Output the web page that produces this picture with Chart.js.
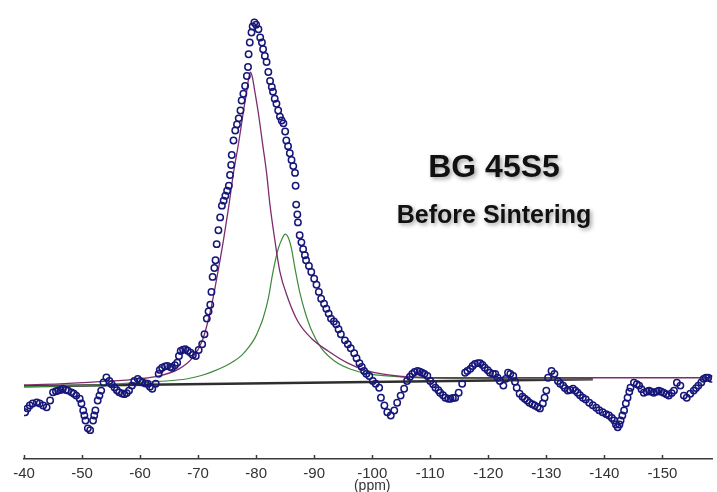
<!DOCTYPE html>
<html>
<head>
<meta charset="utf-8">
<title>BG 45S5 - Before Sintering</title>
<script src="https://cdn.jsdelivr.net/npm/chart.js@4.4.1/dist/chart.umd.min.js"></script>
<style>
  html, body { margin: 0; padding: 0; background: #fff; }
  #wrap { width: 717px; height: 492px; }
</style>
</head>
<body>
<div id="wrap"><canvas id="nmr" width="717" height="492"></canvas></div>
<script>
/* =================================================================
   29Si MAS-NMR spectrum, BG 45S5 before sintering
   Experimental points + two fitted components + baseline
   ================================================================= */

// Chemical shift (ppm) of the measured points
const shiftPpm = [
  -40.2, -40.6, -41.0, -41.5, -42.2, -42.7, -43.3, -43.9, -44.5, -45.0,
  -45.5, -45.9, -46.3, -46.7, -47.2, -47.6, -48.2, -48.6, -49.0, -49.6,
  -49.9, -50.2, -50.4, -50.6, -51.0, -51.4, -51.9, -52.1, -52.3, -52.7,
  -53.0, -53.3, -53.7, -54.2, -54.7, -55.1, -55.6, -56.0, -56.4, -56.9,
  -57.3, -57.7, -58.1, -58.6, -59.0, -59.6, -60.0, -60.4, -60.9, -61.3,
  -61.7, -62.1, -62.7, -63.2, -63.4, -63.8, -64.3, -64.7, -65.2, -65.5,
  -66.0, -66.4, -66.7, -67.0, -67.4, -67.8, -68.2, -68.7, -69.1, -69.6,
  -70.1, -70.7, -71.1, -71.5, -71.8, -72.1, -72.3, -72.5, -72.8, -73.0,
  -73.2, -73.5, -73.8, -74.1, -74.4, -74.7, -75.0, -75.3, -75.5, -75.7,
  -75.8, -76.1, -76.4, -76.7, -77.0, -77.3, -77.5, -77.8, -78.1, -78.4,
  -78.6, -78.7, -78.9, -79.2, -79.4, -79.7, -80.0, -80.4, -80.7, -81.0,
  -81.2, -81.5, -81.8, -82.1, -82.4, -82.7, -82.9, -83.2, -83.5, -83.8,
  -84.1, -84.4, -84.7, -85.0, -85.2, -85.5, -85.8, -86.1, -86.4, -86.7,
  -86.8, -86.9, -87.1, -87.2, -87.5, -87.8, -88.1, -88.4, -88.6, -89.1,
  -89.5, -90.0, -90.4, -90.8, -91.2, -91.7, -92.1, -92.5, -92.9, -93.4,
  -93.8, -94.2, -94.6, -95.3, -95.8, -96.3, -96.9, -97.3, -97.8, -98.2,
  -98.6, -99.0, -99.5, -100.1, -100.6, -101.2, -101.5, -102.1, -102.6, -103.2,
  -103.8, -104.3, -104.9, -105.5, -106.0, -106.5, -106.9, -107.3, -107.8, -108.2,
  -108.6, -109.0, -109.5, -110.0, -110.5, -110.9, -111.4, -111.7, -112.2, -112.6,
  -113.1, -113.5, -113.9, -114.3, -114.9, -115.5, -116.0, -116.4, -116.9, -117.3,
  -117.7, -118.2, -118.6, -119.0, -119.4, -119.9, -120.3, -120.8, -121.2, -121.6,
  -122.0, -122.6, -123.0, -123.4, -123.8, -124.3, -124.6, -124.9, -125.4, -125.9,
  -126.3, -126.7, -127.1, -127.6, -128.0, -128.5, -128.9, -129.4, -129.7, -130.0,
  -130.3, -130.9, -131.4, -132.0, -132.4, -132.9, -133.2, -133.7, -134.1, -134.6,
  -135.0, -135.4, -135.8, -136.3, -136.8, -137.4, -138.0, -138.6, -139.1, -139.7,
  -140.3, -140.8, -141.3, -141.7, -142.0, -142.3, -142.6, -142.8, -143.1, -143.4,
  -143.7, -144.0, -144.3, -144.5, -145.1, -145.6, -146.0, -146.4, -146.8, -147.3,
  -147.7, -148.1, -148.5, -149.0, -149.4, -149.8, -150.2, -150.7, -151.1, -151.6,
  -152.0, -152.5, -153.1, -153.7, -154.2, -154.8, -155.4, -155.8, -156.2, -156.7,
  -157.1, -157.5, -157.9, -158.4
];

// Measured intensity (a.u., baseline ~ 0, max ~ 100)
const intensity = [
  -9.4, -8.3, -7.5, -6.9, -6.6, -6.9, -7.5, -8.0, -6.1, -3.8,
  -3.5, -3.3, -3.1, -2.8, -3.1, -3.3, -3.8, -4.2, -4.7, -5.6,
  -6.9, -8.9, -10.3, -11.7, -13.9, -14.4, -11.7, -10.3, -8.9, -6.1,
  -4.7, -3.3, -1.0, 0.4, -0.6, -1.5, -2.4, -3.2, -3.8, -4.1,
  -4.3, -4.0, -3.3, -1.9, -0.6, 0.0, -0.6, -1.0, -1.3, -1.4,
  -2.2, -2.8, -1.4, 1.4, 2.5, 3.1, 3.5, 3.6, 3.3, 3.1,
  3.8, 4.5, 6.4, 7.8, 8.2, 8.3, 7.9, 7.3, 6.7, 6.4,
  8.1, 9.7, 12.5, 16.9, 18.9, 20.8, 24.4, 28.6, 31.1, 33.3,
  37.8, 41.7, 45.3, 48.6, 50.0, 51.4, 52.8, 54.2, 57.2, 60.0,
  62.8, 66.9, 69.7, 71.4, 73.1, 75.3, 78.1, 80.0, 82.2, 85.0,
  87.5, 91.1, 94.4, 97.2, 98.9, 100.0, 99.4, 98.1, 95.8, 94.4,
  92.5, 90.6, 88.9, 86.1, 83.6, 81.9, 80.6, 78.6, 77.2, 75.3,
  73.6, 72.5, 71.7, 69.4, 66.9, 65.3, 63.3, 61.4, 59.7, 57.8,
  54.2, 48.9, 46.1, 43.9, 40.3, 38.3, 36.4, 34.7, 33.3, 31.7,
  30.0, 28.1, 26.4, 24.4, 22.5, 21.1, 19.7, 18.3, 16.9, 16.1,
  15.3, 13.9, 12.5, 10.8, 9.7, 8.6, 7.2, 5.8, 4.4, 3.3,
  2.2, 1.4, 0.8, -0.6, -1.4, -2.5, -5.3, -7.5, -9.4, -10.3,
  -8.9, -6.7, -4.7, -2.8, -0.6, 0.6, 1.4, 1.9, 2.2, 2.0,
  1.7, 1.4, 0.8, -0.6, -1.5, -2.5, -3.2, -3.9, -4.6, -5.3,
  -5.6, -5.6, -5.4, -5.3, -3.9, -1.4, 1.7, 2.2, 2.8, 3.6,
  4.2, 4.4, 4.4, 3.9, 3.1, 2.4, 1.7, 1.4, 1.4, 0.3,
  -0.6, -1.9, 0.0, 1.7, 1.4, 0.8, -0.8, -2.5, -4.2, -5.0,
  -5.6, -6.1, -6.7, -7.1, -7.5, -7.9, -8.3, -6.9, -5.3, -3.3,
  0.3, 2.2, 1.4, -0.6, -1.4, -1.9, -2.6, -3.3, -3.1, -2.8,
  -3.3, -3.9, -4.6, -5.3, -5.8, -6.7, -7.4, -8.1, -8.8, -9.4,
  -9.9, -10.3, -11.0, -11.7, -12.8, -13.6, -12.8, -11.7, -10.3, -8.9,
  -6.9, -5.3, -3.6, -2.5, -1.1, -1.5, -1.9, -2.9, -3.9, -3.6,
  -3.3, -3.6, -3.9, -3.6, -3.3, -3.6, -3.9, -4.3, -4.7, -4.0,
  -3.3, -1.1, -1.9, -4.7, -5.3, -4.2, -3.3, -2.6, -1.9, -1.0,
  0.0, 0.3, 0.3, 0.0
];

// Fitted component 1 (purple, ~ -79 ppm)
const purplePpm = [
  -40.0, -46.2, -53.0, -59.9, -63.3, -66.7, -69.0, -70.7, -72.1, -73.2,
  -74.4, -75.3, -76.1, -77.0, -77.8, -78.3, -78.7, -79.0, -79.3, -79.7,
  -80.4, -81.1, -81.8, -82.4, -83.2, -84.1, -85.5, -87.2, -89.5, -92.4,
  -95.8, -99.2, -104.3, -112.9, -130.0, -158.6
];
const purpleFit = [
  -1.7, -1.4, -0.8, 0.0, 0.8, 2.8, 5.8, 10.6, 18.9, 28.1,
  39.2, 48.6, 57.8, 66.4, 75.0, 80.0, 84.2, 86.1, 85.0, 81.4,
  74.4, 66.1, 57.8, 48.6, 39.2, 30.0, 22.5, 16.1, 11.4, 7.8,
  4.4, 2.2, 0.8, 0.3, 0.3, 0.3
];

// Fitted component 2 (green, ~ -85 ppm)
const greenPpm = [
  -40.0, -53.0, -61.6, -66.0, -68.4, -70.7, -72.6, -74.7, -76.2, -77.5,
  -78.7, -79.8, -80.5, -81.2, -82.1, -82.9, -83.8, -84.5, -85.0, -85.6,
  -86.1, -86.7, -87.5, -88.4, -89.5, -91.2, -93.5, -96.3, -99.8, -104.3,
  -112.9, -130.0, -138.0
];
const greenFit = [
  -2.2, -1.7, -0.9, -0.4, 0.1, 1.0, 2.1, 3.6, 5.0, 6.6,
  8.8, 11.5, 14.0, 17.0, 22.6, 30.0, 36.5, 39.4, 40.6, 39.4,
  36.5, 30.9, 24.4, 18.9, 13.8, 8.7, 5.0, 2.7, 1.3, 0.6,
  0.1, 0.0, -0.1
];

// Baseline (dark straight line)
const baselinePpm = [-40.0, -138.0];
const baselineLevel = [-2.1, -0.1];

// Axis
const xTickValues = [-40, -50, -60, -70, -80, -90, -100, -110, -120, -130, -140, -150];
const X_LEFT = -40;
const X_RIGHT = -158.6;
const Y_MIN = -22.5;
const Y_MAX = 105;

const TITLE = 'BG 45S5';
const SUBTITLE = 'Before Sintering';
const X_UNIT = '(ppm)';

const COLORS = {
  points: '#17177a',
  purple: '#7d2c6e',
  green: '#3d8a3a',
  baseline: '#2e2e2e',
  axis: '#3a3a3a',
  text: '#111111'
};

const FONT = '"Liberation Sans", Arial, Helvetica, sans-serif';

const toPoints = (xs, ys) => xs.map((x, i) => ({ x, y: ys[i] }));

// Ticks pointing up + unit label + text annotations
const decorPlugin = {
  id: 'decor',
  afterDraw(chart) {
    const { ctx, chartArea, scales: { x } } = chart;
    ctx.save();
    ctx.strokeStyle = COLORS.axis;
    ctx.lineWidth = 1.5;
    xTickValues.forEach(v => {
      const px = Math.round(x.getPixelForValue(v)) + 0.5;
      ctx.beginPath();
      ctx.moveTo(px, chartArea.bottom);
      ctx.lineTo(px, chartArea.bottom - 4);
      ctx.stroke();
    });

    ctx.fillStyle = '#333';
    ctx.font = '14px ' + FONT;
    ctx.textAlign = 'center';
    ctx.textBaseline = 'middle';
    ctx.fillText(X_UNIT, x.getPixelForValue(-100), 486);

    ctx.shadowColor = 'rgba(0,0,0,0.38)';
    ctx.shadowBlur = 4;
    ctx.shadowOffsetX = 2;
    ctx.shadowOffsetY = 2;
    ctx.fillStyle = COLORS.text;
    ctx.textBaseline = 'alphabetic';
    ctx.font = 'bold 32px ' + FONT;
    ctx.fillText(TITLE, 494, 177);
    ctx.font = 'bold 25px ' + FONT;
    ctx.fillText(SUBTITLE, 494, 223);
    ctx.restore();
  }
};

new Chart(document.getElementById('nmr'), {
  type: 'scatter',
  data: {
    datasets: [
      {
        label: 'Experimental',
        data: toPoints(shiftPpm, intensity),
        showLine: false,
        pointStyle: 'circle',
        pointRadius: 3.2,
        pointHoverRadius: 3.2,
        pointBorderWidth: 1.5,
        pointBorderColor: COLORS.points,
        pointBackgroundColor: 'rgba(255,255,255,0)'
      },
      {
        label: 'Component 1',
        data: toPoints(purplePpm, purpleFit),
        showLine: true,
        borderColor: COLORS.purple,
        borderWidth: 1.3,
        pointRadius: 0,
        cubicInterpolationMode: 'monotone'
      },
      {
        label: 'Component 2',
        data: toPoints(greenPpm, greenFit),
        showLine: true,
        borderColor: COLORS.green,
        borderWidth: 1.2,
        pointRadius: 0,
        cubicInterpolationMode: 'monotone'
      },
      {
        label: 'Baseline',
        data: toPoints(baselinePpm, baselineLevel),
        showLine: true,
        borderColor: COLORS.baseline,
        borderWidth: 2.5,
        pointRadius: 0
      }
    ]
  },
  options: {
    responsive: false,
    animation: false,
    layout: { padding: { left: 24, right: 0, top: 0, bottom: 4 } },
    plugins: {
      legend: { display: false },
      tooltip: { enabled: false }
    },
    scales: {
      x: {
        type: 'linear',
        reverse: true,
        min: X_RIGHT,
        max: X_LEFT,
        grid: { display: false, drawTicks: false },
        border: { display: true, color: COLORS.axis, width: 1.5 },
        afterBuildTicks: scale => {
          scale.ticks = xTickValues.map(v => ({ value: v }));
        },
        ticks: {
          autoSkip: false,
          maxRotation: 0,
          padding: 7,
          color: '#333',
          font: { family: FONT, size: 15, lineHeight: 1 },
          callback: v => String(v)
        }
      },
      y: {
        display: false,
        min: Y_MIN,
        max: Y_MAX
      }
    }
  },
  plugins: [decorPlugin]
});
</script>
</body>
</html>
